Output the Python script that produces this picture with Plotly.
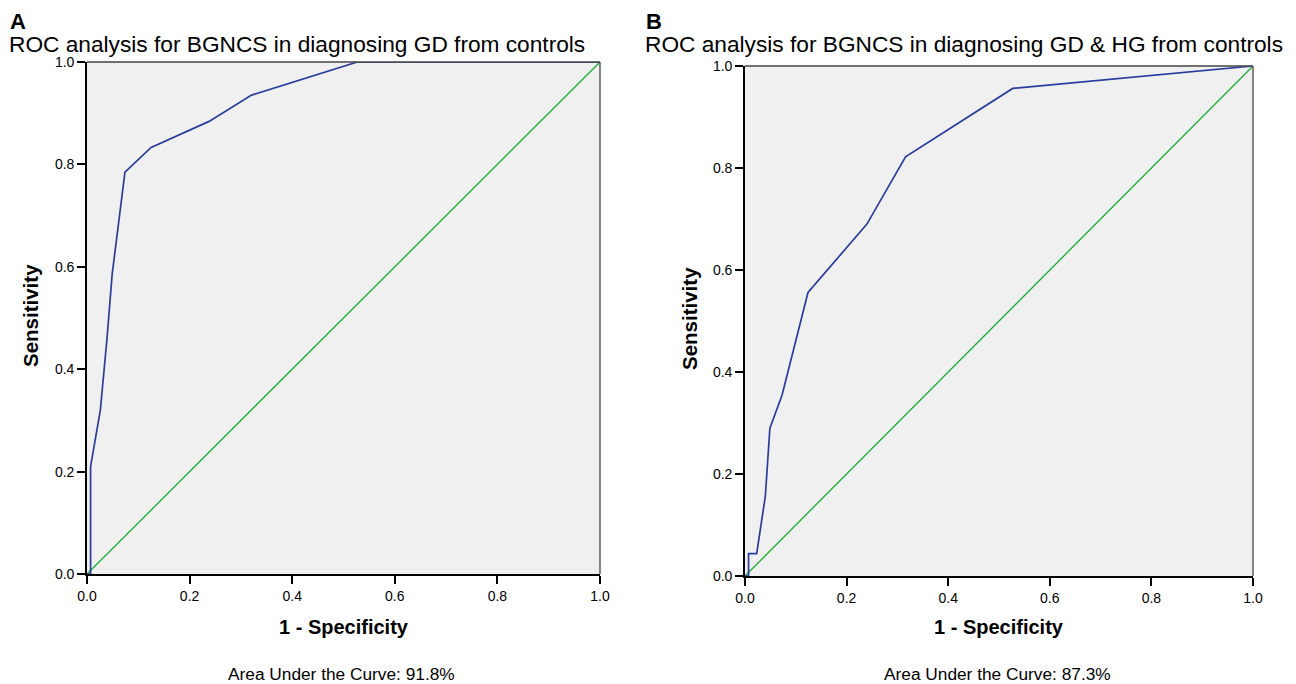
import plotly.graph_objects as go

# Panel A data
a_fpr = [0.0, 0.007, 0.007, 0.026, 0.039, 0.049, 0.074, 0.125, 0.238, 0.32, 0.527, 1.0]
a_tpr = [0.0, 0.0, 0.21, 0.32, 0.46, 0.585, 0.785, 0.833, 0.884, 0.935, 1.0, 1.0]
# Panel B data
b_fpr = [0.0, 0.007, 0.007, 0.023, 0.04, 0.049, 0.073, 0.124, 0.24, 0.316, 0.527, 1.0]
b_tpr = [0.0, 0.0, 0.044, 0.044, 0.156, 0.29, 0.355, 0.556, 0.69, 0.822, 0.956, 1.0]
ref_line = [0.0, 1.0]

panel_letters = ["A", "B"]
titles = ["ROC analysis for BGNCS in diagnosing GD from controls",
          "ROC analysis for BGNCS in diagnosing GD & HG from controls"]
auc_texts = ["Area Under the Curve: 91.8%", "Area Under the Curve: 87.3%"]
tick_vals = [0.0, 0.2, 0.4, 0.6, 0.8, 1.0]
tick_text = ["0.0", "0.2", "0.4", "0.6", "0.8", "1.0"]

# page body has an 8px default margin: the figure is placed at (8, 8)
OFF = 8
W, H = 1296 - OFF, 684 - OFF
BLUE = "#2a3c9e"
GREEN = "#22b03a"
FONT = "Liberation Sans, Arial, sans-serif"


def px(x):
    return (x - OFF) / W


def py(y):
    return 1 - (y - OFF) / H


# plot area pixel boxes in window coordinates (x0, x1, ytop, ybottom)
boxes = [(87, 600, 62, 574), (745, 1253, 66, 576)]

fig = go.Figure()
layout = dict(width=W, height=H, margin=dict(l=0, r=0, t=0, b=0, pad=0, autoexpand=False),
              paper_bgcolor="white", plot_bgcolor="#f0f0f0", showlegend=False,
              font=dict(family=FONT, color="black"))
annotations = []
shapes = []
for i, (fx, fy) in enumerate([(a_fpr, a_tpr), (b_fpr, b_tpr)]):
    n = "" if i == 0 else "2"
    x0, x1, yt, yb = boxes[i]
    xa = "x" + n
    ya = "y" + n
    fig.add_trace(go.Scatter(x=ref_line, y=ref_line, mode="lines",
                             line=dict(color=GREEN, width=1.4),
                             xaxis=xa, yaxis=ya, hoverinfo="skip"))
    fig.add_trace(go.Scatter(x=fx, y=fy, mode="lines",
                             line=dict(color=BLUE, width=1.7),
                             xaxis=xa, yaxis=ya))
    axcommon = dict(range=[0, 1], tickvals=tick_vals, ticktext=tick_text, automargin=False,
                    showgrid=False, zeroline=False, showline=True, linecolor="black",
                    linewidth=1.6, mirror=False, ticks="outside", ticklen=8, tickwidth=1.6,
                    tickcolor="black", tickfont=dict(size=14, family=FONT, color="black"))
    layout["xaxis" + n] = dict(axcommon, domain=[px(x0), px(x1)], anchor=ya)
    layout["yaxis" + n] = dict(axcommon, domain=[py(yb), py(yt)], anchor=xa)
    # top and right frame
    shapes.append(dict(type="line", xref="paper", yref="paper",
                       x0=px(x0), x1=px(x1), y0=py(yt), y1=py(yt),
                       line=dict(color="#444444", width=1.6)))
    shapes.append(dict(type="line", xref="paper", yref="paper",
                       x0=px(x1), x1=px(x1), y0=py(yt), y1=py(yb),
                       line=dict(color="#444444", width=1.3)))
    lx = 9 if i == 0 else 645
    annotations.append(dict(text="<b>" + panel_letters[i] + "</b>", x=px(lx), y=py(22),
                            xref="paper", yref="paper", xanchor="left", yanchor="middle",
                            borderpad=0, showarrow=False, font=dict(size=22, family=FONT)))
    annotations.append(dict(text=titles[i], x=px(lx - 1), y=py(43.5),
                            xref="paper", yref="paper", xanchor="left", yanchor="middle",
                            borderpad=0, showarrow=False, font=dict(size=22.7, family=FONT)))
    cx = (x0 + x1) / 2
    annotations.append(dict(text="<b>1 - Specificity</b>", x=px(cx), y=py(627),
                            xref="paper", yref="paper", xanchor="center", yanchor="middle",
                            borderpad=0, showarrow=False, font=dict(size=20, family=FONT)))
    annotations.append(dict(text=auc_texts[i], x=px(cx - 2), y=py(674),
                            xref="paper", yref="paper", xanchor="center", yanchor="middle",
                            borderpad=0, showarrow=False, font=dict(size=17.3, family=FONT)))
    sx = 30 if i == 0 else 689
    annotations.append(dict(text="<b>Sensitivity</b>", x=px(sx), y=py((yt + yb) / 2 - 2),
                            xref="paper", yref="paper", xanchor="center", yanchor="middle",
                            borderpad=0, textangle=-90, showarrow=False,
                            font=dict(size=20.5, family=FONT)))

layout["annotations"] = annotations
layout["shapes"] = shapes
fig.update_layout(**layout)
fig.write_html("out.html")
